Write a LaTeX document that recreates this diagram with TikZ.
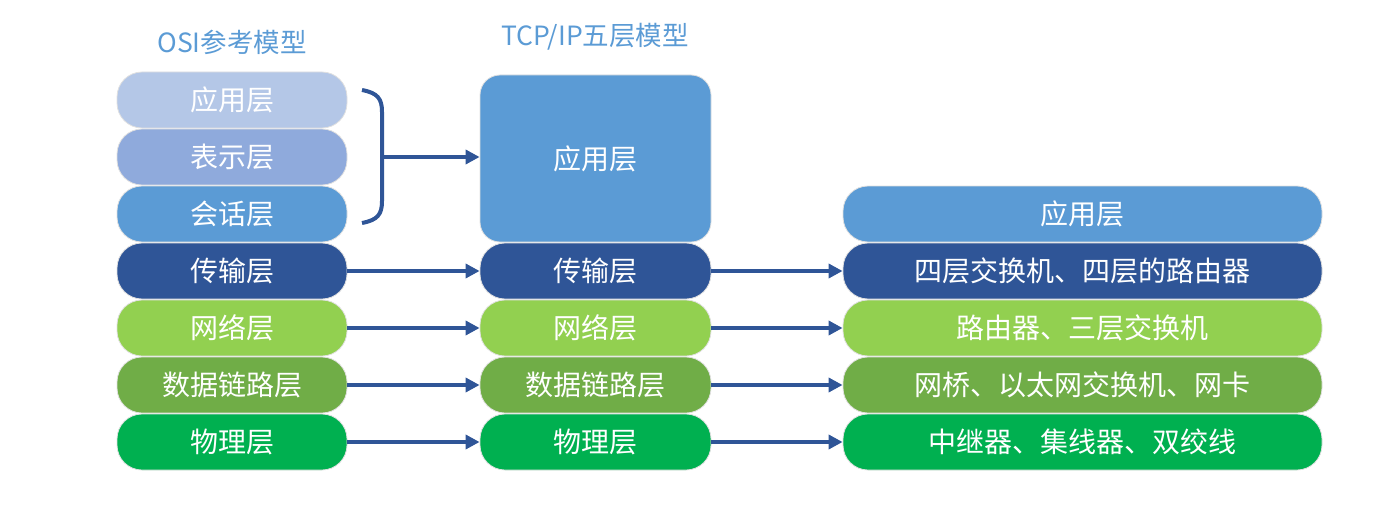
\documentclass[tikz,border=0pt]{standalone}
\usepackage{fontspec}
\newfontfamily\cjk{Noto Sans CJK SC}
\usetikzlibrary{arrows.meta}
\definecolor{cA}{HTML}{B4C7E7}
\definecolor{cB}{HTML}{8FAADC}
\definecolor{cC}{HTML}{5B9BD5}
\definecolor{cD}{HTML}{2F5597}
\definecolor{cE}{HTML}{92D050}
\definecolor{cF}{HTML}{70AD47}
\definecolor{cG}{HTML}{00B050}
\tikzset{
  layer/.style={draw=black!12, line width=0.8pt, rounded corners=25pt, minimum height=56pt,
    inner sep=0pt, text=white, font=\cjk\fontsize{28}{32}\selectfont},
  lcol/.style={layer, minimum width=230pt},
  mcol/.style={layer, minimum width=231pt},
  rcol/.style={layer, minimum width=479pt},
  title/.style={text=cC, font=\cjk\fontsize{26.5}{30}\selectfont, inner sep=0pt},
  conn/.style={draw=cD, line width=3.5pt, -{Triangle[length=14pt,width=14pt]}},
}
\begin{document}
\begin{tikzpicture}[x=1pt,y=-1pt]
\useasboundingbox (0,0) rectangle (1383,508);
\node[title] (t1) at (232,42) {OSI参考模型};
\node[title] (t2) at (595,37) {TCP/IP五层模型};
% left column
\node[lcol, fill=cA] (o1) at (232,100) {应用层};
\node[lcol, fill=cB] (o2) at (232,157) {表示层};
\node[lcol, fill=cC] (o3) at (232,214) {会话层};
\node[lcol, fill=cD] (o4) at (232,271) {传输层};
\node[lcol, fill=cE] (o5) at (232,328) {网络层};
\node[lcol, fill=cF] (o6) at (232,385) {数据链路层};
\node[lcol, fill=cG] (o7) at (232,442) {物理层};
% middle column
\node[mcol, fill=cC, minimum height=167pt, rounded corners=20pt] (m1) at (595.5,158.5) {应用层};
\node[mcol, fill=cD] (m4) at (595.5,271) {传输层};
\node[mcol, fill=cE] (m5) at (595.5,328) {网络层};
\node[mcol, fill=cF] (m6) at (595.5,385) {数据链路层};
\node[mcol, fill=cG] (m7) at (595.5,442) {物理层};
% right column
\node[rcol, fill=cC] (r1) at (1082.5,214) {应用层};
\node[rcol, fill=cD] (r4) at (1082.5,271) {四层交换机、四层的路由器};
\node[rcol, fill=cE] (r5) at (1082.5,328) {路由器、三层交换机};
\node[rcol, fill=cF] (r6) at (1082.5,385) {网桥、以太网交换机、网卡};
\node[rcol, fill=cG] (r7) at (1082.5,442) {中继器、集线器、双绞线};
% brace
\coordinate (bt) at (362,90);
\coordinate (bb) at (362,223);
\coordinate (bm) at (382,157);
\draw[cD, line width=4pt] (bt) .. controls (378,93) and (382,99) .. (382,112) -- (382,201) .. controls (382,214) and (378,220) .. (bb);
\draw[conn] (bm) -- (bm -| m1.west);
% arrows
\foreach \i in {4,5,6,7} {
  \draw[conn] (o\i.east) -- (m\i.west);
  \draw[conn] (m\i.east) -- (r\i.west);
}
\end{tikzpicture}
\end{document}
